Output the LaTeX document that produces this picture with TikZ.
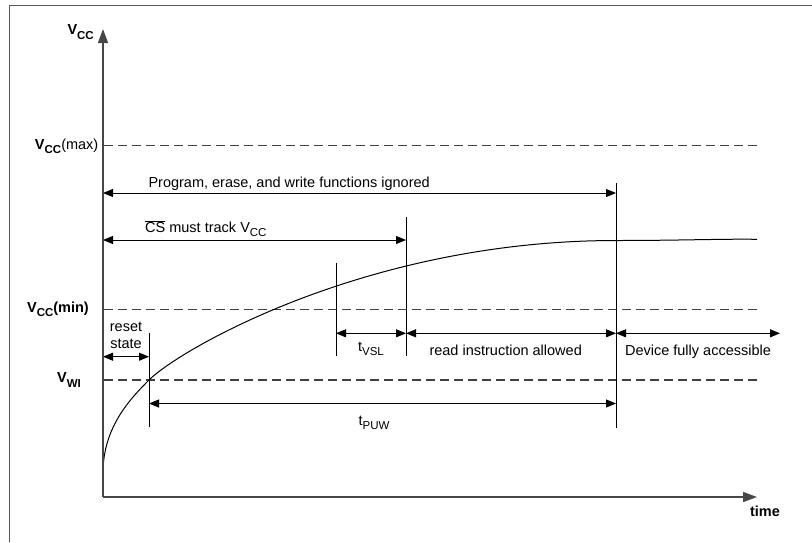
\documentclass[tikz,border=0pt]{standalone}
\usepackage{fontspec}
\setmainfont{Liberation Sans}
\usetikzlibrary{arrows.meta}
\newcommand\sbs[1]{\raisebox{-0.55ex}{\fontsize{11.5}{11}\selectfont #1}}
\tikzset{
  lbl/.style={inner sep=0pt, font=\fontsize{14.5}{17}\selectfont},
  blbl/.style={inner sep=0pt, font=\fontsize{14.5}{17}\selectfont\bfseries},
  axis/.style={line width=1.5pt, draw=black!72, -{Triangle[length=14pt,width=10pt]}},
  dim/.style={line width=0.9pt, {Triangle[length=10pt,width=8pt]}-{Triangle[length=10pt,width=8pt]}},
  mark line/.style={line width=0.9pt},
  lvl/.style={line width=1.2pt, draw=black!75, dash pattern=on 9pt off 5pt},
  frame/.style={line width=1.6pt, draw=black!65}
}
\begin{document}
\begin{tikzpicture}[x=1pt,y=-1pt]
\useasboundingbox (0,0) rectangle (812,542);
% frame
\coordinate (fbl) at (9.5,542);
\coordinate (ftl) at (9.5,5.5);
\coordinate (ftr) at (812,5.5);
\draw[frame] (fbl) -- (ftl) -- (ftr);
% axes
\coordinate (O) at (103,497);
\coordinate (ytop) at (103,29);
\coordinate (xend) at (757,497);
% levels
\coordinate (max0) at (104,145.7); \coordinate (max1) at (757,145.7);
\coordinate (min0) at (104,309.3); \coordinate (min1) at (757,309.3);
\coordinate (wi0) at (104,380);   \coordinate (wi1) at (757,380);
\draw[lvl] (max0) -- (max1);
\draw[lvl] (min0) -- (min1);
\draw[lvl] (wi0) -- (wi1);
% curve
\coordinate (c0) at (103,473);
\coordinate (cw) at (149,380);
\coordinate (c1) at (616,240.5);
\coordinate (c2) at (757,239.3);
\draw[line width=1pt] (c0) .. controls (103,428) and (129,400) .. (cw)
      .. controls (179,350) and (366,240.5) .. (c1)
      .. controls (680,240.5) and (720,238.8) .. (c2);
% vertical markers
\coordinate (v1a) at (149,333); \coordinate (v1b) at (149,427);
\coordinate (v2a) at (336,262.7); \coordinate (v2b) at (336,356);
\coordinate (v3a) at (406,216.7); \coordinate (v3b) at (406,356);
\coordinate (v4a) at (616,183.3); \coordinate (v4b) at (616,428.3);
\draw[mark line] (v1a) -- (v1b);
\draw[mark line] (v2a) -- (v2b);
\draw[mark line] (v3a) -- (v3b);
\draw[mark line] (v4a) -- (v4b);
% dimension arrows
\coordinate (p0) at (103,193); \coordinate (p1) at (616,193);
\coordinate (cs0) at (103,240); \coordinate (cs1) at (406,240);
\coordinate (r0) at (103,356.7); \coordinate (r1) at (149,356.7);
\coordinate (t0) at (336,333.3); \coordinate (t1) at (406,333.3);
\coordinate (d1) at (616,333.3); \coordinate (d2) at (780,333.3);
\coordinate (pu0) at (149,403.5); \coordinate (pu1) at (616,403.5);
\draw[dim] (p0) -- (p1);
\draw[dim] (cs0) -- (cs1);
\draw[dim] (r0) -- (r1);
\draw[dim] (t0) -- (t1);
\draw[dim] (t1) -- (d1);
\draw[dim] (d1) -- (d2);
\draw[dim] (pu0) -- (pu1);
% axes on top
\draw[axis] (O) -- (ytop);
\draw[axis] (O) -- (xend);
% labels
\node[blbl, anchor=east] (lvcc) at (94,32) {V\sbs{CC}};
\node[lbl, anchor=east] (lmax) at (98.5,146) {\bfseries V\sbs{CC}\mdseries(max)};
\node[blbl, anchor=east] (lmin) at (89,309) {V\sbs{CC}(min)};
\node[blbl, anchor=east] (lwi) at (81,380) {V\sbs{WI}};
\node[blbl] (ltime) at (765,511) {time};
\node[lbl, anchor=base west] (lprog) at (148.3,187.5) {Program, erase, and write functions ignored};
\node[lbl, anchor=base west] (lcs) at (145,232.5) {$\overline{\mbox{CS}}$ must track V\sbs{CC}};
\node[lbl, anchor=base] (lreset) at (126,331) {reset};
\node[lbl, anchor=base] (lstate) at (126,348) {state};
\node[lbl, anchor=base] (ltvsl) at (371,351.5) {t\sbs{VSL}};
\node[lbl, anchor=base] (lread) at (505.7,355) {read instruction allowed};
\node[lbl, anchor=base] (ldev) at (698,355) {Device fully accessible};
\node[lbl, anchor=base] (ltpuw) at (374,425) {t\sbs{PUW}};
\end{tikzpicture}
\end{document}
